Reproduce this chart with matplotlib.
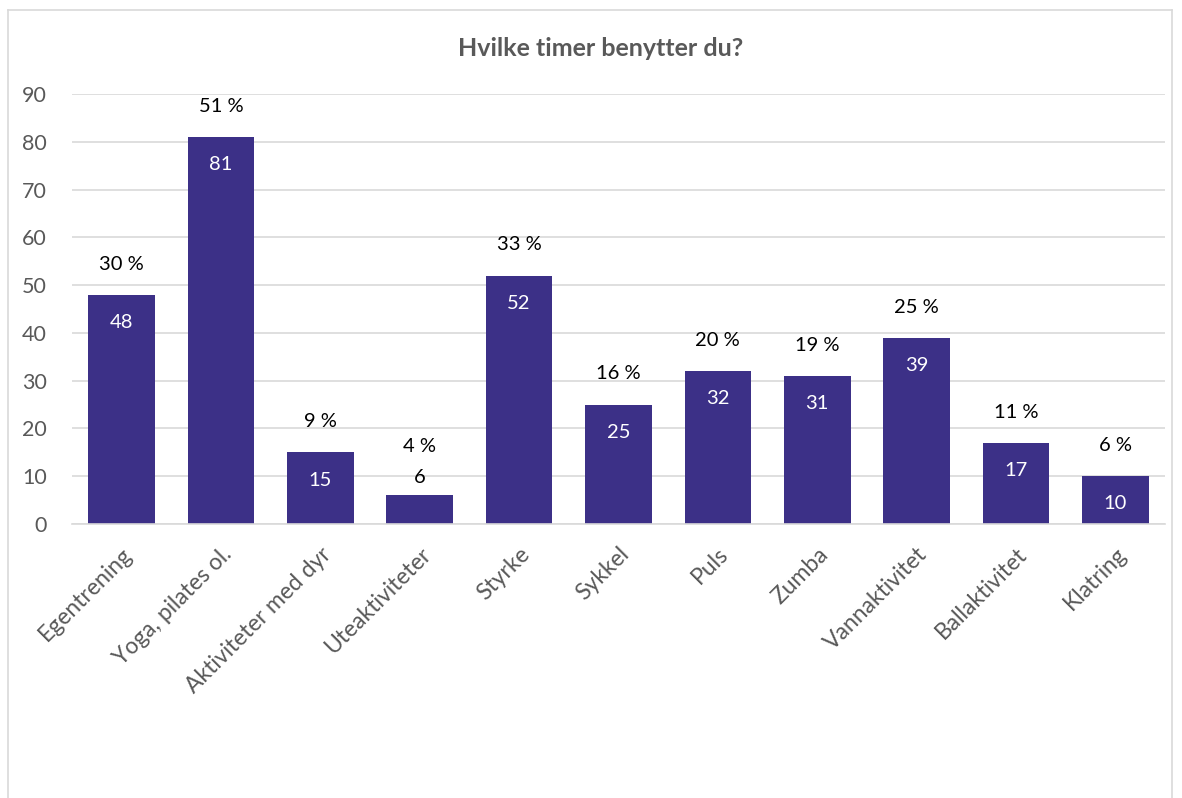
import matplotlib.pyplot as plt
from matplotlib.lines import Line2D

plt.rcParams['font.family'] = ['Lato', 'DejaVu Sans']

categories = ["Egentrening", "Yoga, pilates ol.", "Aktiviteter med dyr", "Uteaktiviteter",
              "Styrke", "Sykkel", "Puls", "Zumba", "Vannaktivitet", "Ballaktivitet", "Klatring"]
counts = [48, 81, 15, 6, 52, 25, 32, 31, 39, 17, 10]
percents = [30, 51, 9, 4, 33, 16, 20, 19, 25, 11, 6]

grey = "#595959"
bar_color = "#3c3087"

fig = plt.figure(figsize=(11.82, 7.98), dpi=100)
ax = fig.add_axes([72 / 1182, 1 - 524 / 798, (1165 - 72) / 1182, (524 - 94) / 798])

x = range(len(categories))
bars = ax.bar(x, counts, width=0.67, color=bar_color, zorder=2)

ax.set_ylim(0, 90)
ax.set_xlim(-0.5, len(categories) - 0.5)
ax.set_yticks(range(0, 91, 10))
ax.yaxis.grid(True, color="#d9d9d9", linewidth=1.2, zorder=0)
ax.set_axisbelow(True)
for s in ["top", "right", "left"]:
    ax.spines[s].set_visible(False)
ax.spines["bottom"].set_color("#d9d9d9")
ax.spines["bottom"].set_linewidth(1.2)
ax.tick_params(axis="both", length=0, colors=grey)
ax.tick_params(axis="y", pad=18, labelsize=15.5)
ax.set_xticks(list(x))
ax.set_xticklabels(categories, rotation=45, ha="right", rotation_mode="anchor", color=grey)
ax.tick_params(axis="x", pad=14, labelsize=16.5)

lbl = 14.5
for i, (c, p) in enumerate(zip(counts, percents)):
    if c >= 10:
        ax.annotate(str(c), (i, c), xytext=(0, -20), textcoords="offset points",
                    ha="center", va="center", color="white", fontsize=lbl)
        ax.annotate(f"{p} %", (i, c), xytext=(0, 22), textcoords="offset points",
                    ha="center", va="center", color="black", fontsize=lbl)
    else:
        ax.annotate(str(c), (i, c), xytext=(0, 13), textcoords="offset points",
                    ha="center", va="center", color="black", fontsize=lbl)
        ax.annotate(f"{p} %", (i, c), xytext=(0, 35), textcoords="offset points",
                    ha="center", va="center", color="black", fontsize=lbl)

fig.text(601 / 1182, 1 - 48 / 798, "Hvilke timer benytter du?", ha="center", va="center",
         fontsize=18, fontweight="bold", color=grey)

# chart frame
fx0, fx1, fy = 8 / 1182, 1172 / 1182, 1 - 10 / 798
for xs, ys in [([fx0, fx1], [fy, fy]), ([fx0, fx0], [fy, -0.01]), ([fx1, fx1], [fy, -0.01])]:
    fig.add_artist(Line2D(xs, ys, color="#d9d9d9", linewidth=1.2, transform=fig.transFigure))

fig.savefig("out.png", dpi=100)
